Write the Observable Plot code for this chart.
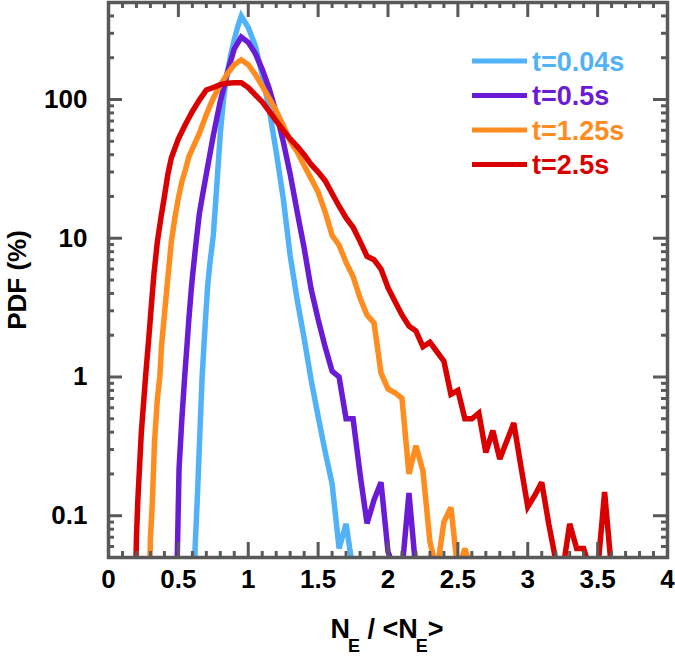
<!DOCTYPE html>
<html><head><meta charset="utf-8">
<script src="https://cdn.jsdelivr.net/npm/d3@7"></script>
<script src="https://cdn.jsdelivr.net/npm/@observablehq/plot@0.6"></script>
<style>
html,body{margin:0;padding:0;background:#fff;}
#chart{width:675px;height:659px;}
</style></head><body><div id="chart"></div>
<script>
// ---- data (N_E/<N_E>, PDF %) ----
const ratio004 = [0.615,0.62,0.635,0.658,0.67,0.694,0.71,0.725,0.75,0.775,0.8,0.825,0.85,0.875,0.9,0.925,0.95,1.0,1.05,1.1,1.15,1.2,1.25,1.3,1.35,1.4,1.45,1.5,1.55,1.6,1.65,1.7,1.75];
const pdf004   = [0,0.06,0.13,0.5,1.0,2.6,4.6,6.5,10.5,24,57,105,155,210,270,335,400,330,245,150,85,42,19.5,7.5,3.6,1.9,0.95,0.52,0.29,0.17,0.058,0.0875,0];

const ratio05 = [0.49,0.495,0.505,0.525,0.545,0.56,0.575,0.59,0.6,0.625,0.65,0.675,0.7,0.75,0.8,0.85,0.9,0.95,1.0,1.05,1.1,1.15,1.2,1.25,1.3,1.35,1.4,1.45,1.5,1.55,1.6,1.65,1.7,1.75,1.8,1.85,1.9,1.95,2.0,2.05,2.1,2.15,2.2];
const pdf05   = [0,0.07,0.22,0.5,1.0,1.6,2.6,4.0,5.2,9,15,21,29,55,97,155,232,282,258,215,165,120,80,50,29,15.5,8.5,4.3,2.6,1.65,1.1,1.0,0.5,0.5,0.2,0.088,0.13,0.174,0.055,0,0,0.146,0];

const ratio125 = [0.295,0.30,0.313,0.33,0.35,0.367,0.38,0.40,0.42,0.45,0.475,0.5,0.525,0.55,0.575,0.6,0.65,0.7,0.75,0.8,0.85,0.9,0.95,1.0,1.05,1.1,1.15,1.2,1.25,1.3,1.35,1.4,1.45,1.5,1.55,1.6,1.65,1.7,1.75,1.8,1.85,1.9,1.95,2.0,2.05,2.1,2.15,2.2,2.25,2.3,2.35,2.4,2.45,2.5,2.55,2.6];
const pdf125   = [0,0.07,0.12,0.35,0.7,1.0,1.7,2.8,4.6,9.5,14,19.5,25.5,31,38.6,44,57,78,102,127,153,178,193,178,152,125,102,83,65,50,42,33.5,26.9,21.5,15.5,10.5,8.9,6.7,5.3,3.7,2.8,2.45,1.07,0.82,0.77,0.70,0.2,0.32,0.21,0.065,0,0.09,0.115,0,0.058,0];

const ratio25 = [0.195,0.20,0.21,0.235,0.265,0.29,0.31,0.325,0.35,0.375,0.4,0.425,0.45,0.5,0.55,0.6,0.65,0.7,0.75,0.8,0.85,0.9,0.95,1.0,1.05,1.1,1.15,1.2,1.25,1.3,1.35,1.4,1.45,1.5,1.55,1.6,1.65,1.7,1.75,1.8,1.85,1.9,1.95,2.0,2.05,2.1,2.15,2.2,2.25,2.3,2.35,2.4,2.45,2.5,2.55,2.6,2.65,2.7,2.75,2.8,2.85,2.9,2.95,3.0,3.05,3.1,3.15,3.2,3.25,3.3,3.35,3.4,3.45,3.5,3.55,3.6];
const pdf25   = [0,0.07,0.13,0.4,1.0,2.0,3.6,5.5,9.5,14,20,29,38,52,66,82,99,117,122,128,131,132,132,122,108,96,82,70,60,52,46,40,34,30,26,21,17,14,12,9.5,7.4,7.0,6.0,4.4,3.5,2.8,2.33,2.14,1.65,1.78,1.52,1.3,0.75,0.8,0.5,0.5,0.55,0.286,0.41,0.256,0.345,0.466,0.23,0.116,0.14,0.174,0.0875,0.048,0,0.0875,0.058,0.058,0,0,0.148,0];

const seriesNames  = ["t=0.04s","t=0.5s","t=1.25s","t=2.5s"];
const seriesColors = ["#52B2F8","#6A1BD6","#FF8C1E","#DA0000"];

const xTicks = [0,0.5,1,1.5,2,2.5,3,3.5,4];
const xTickLabels = ["0","0.5","1","1.5","2","2.5","3","3.5","4"];
const xMinor = [0.1,0.2,0.3,0.4,0.6,0.7,0.8,0.9,1.1,1.2,1.3,1.4,1.6,1.7,1.8,1.9,2.1,2.2,2.3,2.4,2.6,2.7,2.8,2.9,3.1,3.2,3.3,3.4,3.6,3.7,3.8,3.9];
const yTicks = [0.1,1,10,100];
const yTickLabels = ["0.1","1","10","100"];
const yMinor = [0.06,0.07,0.08,0.09,0.2,0.3,0.4,0.5,0.6,0.7,0.8,0.9,2,3,4,5,6,7,8,9,20,30,40,50,60,70,80,90,200,300,400];

// ---- build table ----
const rows = [];
[[ratio004,pdf004],[ratio05,pdf05],[ratio125,pdf125],[ratio25,pdf25]].forEach(([xs,ys],k) =>
  xs.forEach((x,i) => rows.push({series: seriesNames[k], ratio: x, pdf: ys[i]})));

const W = 675, H = 659, mL = 108, mR = 8, mT = 2, mB = 102;
const frameW = W - mL - mR, frameH = H - mT - mB;
const axisColor = "#595959";
const font = "'Liberation Sans', Arial, Helvetica, sans-serif";
const tk = {stroke: axisColor, strokeWidth: 3};

const chart = Plot.plot({
  width: W, height: H,
  marginLeft: mL, marginRight: mR, marginTop: mT, marginBottom: mB,
  style: {fontFamily: font, background: "white", overflow: "visible"},
  x: {domain: [0, 4], axis: null, label: null},
  y: {type: "log", domain: [0.05, 500], axis: null, label: null},
  color: {domain: seriesNames, range: seriesColors},
  marks: [
    Plot.line(rows, {x: "ratio", y: d => Math.max(d.pdf, 0.04), z: "series", stroke: "series",
      strokeWidth: 5.5, strokeLinejoin: "miter", strokeMiterlimit: 3, clip: true}),
    // bottom ticks (inward)
    Plot.ruleX(xTicks, {x: d => d, insetTop: frameH - 15, ...tk}),
    Plot.ruleX(xMinor, {x: d => d, insetTop: frameH - 6, ...tk}),
    // top ticks
    Plot.ruleX(xTicks, {x: d => d, insetBottom: frameH - 15, ...tk}),
    Plot.ruleX(xMinor, {x: d => d, insetBottom: frameH - 6, ...tk}),
    // left ticks
    Plot.ruleY(yTicks, {y: d => d, insetRight: frameW - 14, ...tk}),
    Plot.ruleY(yMinor, {y: d => d, insetRight: frameW - 6, ...tk}),
    // right ticks
    Plot.ruleY(yTicks, {y: d => d, insetLeft: frameW - 14, ...tk}),
    Plot.ruleY(yMinor, {y: d => d, insetLeft: frameW - 6, ...tk}),
    // tick labels
    Plot.text(xTicks, {x: d => d, frameAnchor: "bottom", dy: 30, text: d => xTickLabels[xTicks.indexOf(d)],
      fontSize: 26, fontWeight: "bold", fill: "black"}),
    Plot.text(yTicks, {y: d => d, frameAnchor: "left", dx: -21, textAnchor: "end",
      text: d => yTickLabels[yTicks.indexOf(d)], fontSize: 26, fontWeight: "bold", fill: "black"}),
    // y axis title
    Plot.text(["PDF (%)"], {text: d => d, frameAnchor: "left", dx: -91, rotate: -90,
      fontSize: 26, fontWeight: "bold", fill: "black", textAnchor: "middle"}),
    Plot.frame({stroke: axisColor, strokeWidth: 3.5})
  ]
});

const svg = d3.select(chart);
// legend
const legend = svg.append("g").attr("font-family", font).attr("font-weight", "bold")
  .attr("font-size", 27).attr("text-anchor", "start");
seriesNames.forEach((name, i) => {
  const y = 61 + i * 34.5;
  legend.append("line").attr("x1", 472).attr("x2", 527).attr("y1", y).attr("y2", y)
    .attr("stroke", seriesColors[i]).attr("stroke-width", 5);
  legend.append("text").attr("x", 532).attr("y", y).attr("dy", "0.36em")
    .attr("text-anchor", "start").attr("fill", seriesColors[i]).text(name);
});
// x axis title with subscripts
const xt = svg.append("text").attr("x", 387).attr("y", 638).attr("text-anchor", "middle")
  .attr("font-family", font).attr("font-weight", "bold").attr("font-size", 27).attr("fill", "black");
xt.append("tspan").text("N");
xt.append("tspan").attr("dy", 14).attr("dx", -2).attr("font-size", 18).text("E");
xt.append("tspan").attr("dy", -14).text(" / <N");
xt.append("tspan").attr("dy", 14).attr("dx", -2).attr("font-size", 18).text("E");
xt.append("tspan").attr("dy", -14).text(">");

document.getElementById("chart").appendChild(chart);
</script>
</body></html>
